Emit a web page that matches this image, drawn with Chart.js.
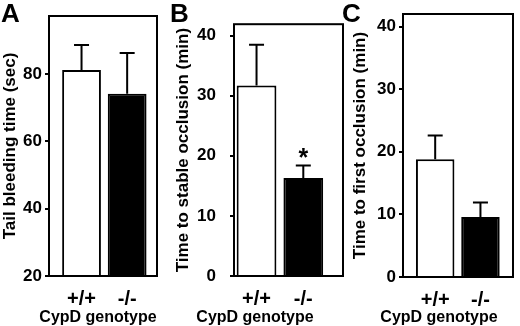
<!DOCTYPE html>
<html>
<head>
<meta charset="utf-8">
<script src="https://cdn.jsdelivr.net/npm/chart.js@4.4.0/dist/chart.umd.min.js"></script>
<style>
  body { margin: 0; background: #fff; }
  #fig { position: relative; width: 520px; height: 326px; overflow: hidden;
         font-family: 'Liberation Sans', Arial, sans-serif; font-weight: bold; color: #000; }
  canvas { position: absolute; top: 0; }
  .letter { position: absolute; top: 0; font-size: 26px; line-height: 1; }
  .xtitle { position: absolute; top: 309px; width: 200px; text-align: center; font-size: 16px; line-height: 1; }
</style>
</head>
<body>
<div id="fig">
  <canvas id="chartA" width="170" height="326" style="left:0px"></canvas>
  <canvas id="chartB" width="180" height="326" style="left:170px"></canvas>
  <canvas id="chartC" width="180" height="326" style="left:340px"></canvas>
  <div class="letter" style="left:1px">A</div>
  <div class="letter" style="left:170px">B</div>
  <div class="letter" style="left:342px">C</div>
  <div class="xtitle" style="left:-2px">CypD genotype</div>
  <div class="xtitle" style="left:155px">CypD genotype</div>
  <div class="xtitle" style="left:339px">CypD genotype</div>
</div>
<script>
'use strict';

const genotypes = ['+/+', '-/-'];

// A: tail bleeding time (sec), mean and upper error
const bleedMean = [81.2, 74.1];
const bleedErr = [7.4, 12.1];
const bleedTicks = [20, 40, 60, 80];

// B: time to stable occlusion (min)
const stableMean = [31.7, 16.3];
const stableErr = [6.8, 2.1];
const stableMarks = ['', '*'];

// C: time to first occlusion (min)
const firstMean = [18.8, 9.6];
const firstErr = [3.8, 2.3];

const minuteTicks = [0, 10, 20, 30, 40];

const tickFont = {family: "'Liberation Sans Narrow', 'Arial Narrow', 'Liberation Sans', Arial, sans-serif", size: 17, weight: 'bold'};
const labelFont = {family: "'Liberation Sans', Arial, sans-serif", size: 20, weight: 'bold'};
const titleFont = {family: "'Liberation Sans', Arial, sans-serif", size: 17, weight: 'bold'};

// error bars (upper only), significance mark and the box round the plot
const errorBars = {
  id: 'errorBars',
  afterDatasetsDraw(chart) {
    const ctx = chart.ctx;
    const y = chart.scales.y;
    const ds = chart.data.datasets[0];
    const meta = chart.getDatasetMeta(0);
    ctx.save();
    ctx.strokeStyle = '#000';
    ctx.fillStyle = '#000';
    ctx.lineWidth = 2;
    meta.data.forEach((bar, i) => {
      const top = y.getPixelForValue(ds.data[i].y + ds.err[i]);
      ctx.beginPath();
      ctx.moveTo(bar.x, bar.y);
      ctx.lineTo(bar.x, top);
      ctx.moveTo(bar.x - 7.5, top);
      ctx.lineTo(bar.x + 7.5, top);
      ctx.stroke();
      if (ds.marks && ds.marks[i]) {
        ctx.font = "bold 25px 'Liberation Sans', Arial, sans-serif";
        ctx.textAlign = 'center';
        ctx.textBaseline = 'alphabetic';
        ctx.fillText(ds.marks[i], bar.x, top + 1);
      }
    });
    const a = chart.chartArea;
    ctx.strokeRect(a.left, a.top, a.right - a.left, a.bottom - a.top);
    ctx.restore();
  }
};

function makeChart(id, p) {
  return new Chart(document.getElementById(id), {
    type: 'bar',
    data: {
      datasets: [{
        data: p.mean.map((v, i) => ({x: i, y: v})),
        err: p.err,
        marks: p.marks,
        backgroundColor: ['#fff', '#000'],
        borderColor: '#000',
        borderWidth: 2,
        barPercentage: 0.85,
        categoryPercentage: 1
      }]
    },
    options: {
      responsive: false,
      animation: false,
      devicePixelRatio: 1,
      layout: {padding: {left: 0, right: p.padRight, top: p.top, bottom: 0}},
      plugins: {legend: {display: false}, tooltip: {enabled: false}},
      scales: {
        x: {
          type: 'linear',
          offset: false,
          min: p.xMin,
          max: p.xMax,
          afterBuildTicks: s => { s.ticks = genotypes.map((g, i) => ({value: i})); },
          afterFit: s => { s.height = p.xHeight; },
          grid: {display: false, offset: false},
          border: {display: false},
          ticks: {callback: v => genotypes[v], color: '#000', font: labelFont, padding: 3, maxRotation: 0, autoSkip: false}
        },
        y: {
          min: p.yMin,
          max: p.yMax,
          afterBuildTicks: s => { s.ticks = p.ticks.map(v => ({value: v})); },
          afterFit: s => { s.width = p.yWidth; },
          grid: {drawOnChartArea: false, tickLength: 4, color: '#000', lineWidth: 2},
          border: {display: false},
          ticks: {color: '#000', font: tickFont, padding: p.tickPad},
          title: {display: true, text: p.title, color: '#000', font: titleFont, padding: {top: p.titlePad, bottom: 0}}
        }
      }
    },
    plugins: [errorBars]
  });
}

makeChart('chartA', {
  mean: bleedMean, err: bleedErr, ticks: bleedTicks, title: 'Tail bleeding time (sec)',
  yMin: 20, yMax: 97.2, xMin: -0.713, xMax: 1.654,
  top: 16, yWidth: 49, padRight: 13, xHeight: 50, tickPad: 3, titlePad: 0
});

makeChart('chartB', {
  mean: stableMean, err: stableErr, marks: stableMarks, ticks: minuteTicks, title: 'Time to stable occlusion (min)',
  yMin: 0, yMax: 41.9, xMin: -0.482, xMax: 1.849,
  top: 13, yWidth: 64, padRight: 7, xHeight: 50, tickPad: 14, titlePad: 3
});

makeChart('chartC', {
  mean: firstMean, err: firstErr, ticks: minuteTicks, title: 'Time to first occlusion (min)',
  yMin: 0, yMax: 42, xMin: -0.711, xMax: 1.719,
  top: 14, yWidth: 63, padRight: 7, xHeight: 49, tickPad: 3, titlePad: 10
});
</script>
</body>
</html>
